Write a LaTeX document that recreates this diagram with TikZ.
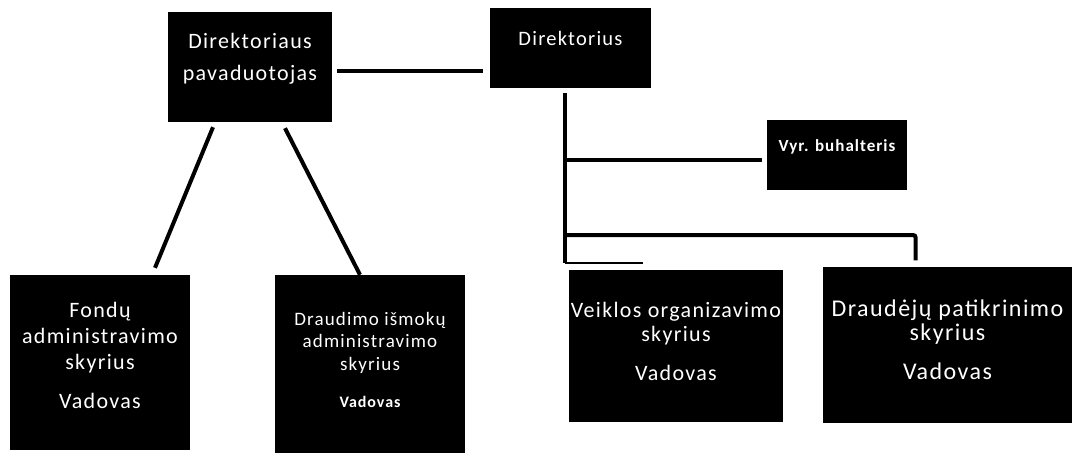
\documentclass[tikz,border=0pt]{standalone}
\usepackage{fontspec}
\setmainfont{Carlito}[LetterSpace=6]
\usetikzlibrary{calc}
\begin{document}
\begin{tikzpicture}[x=1pt,y=-1pt,
  box/.style={fill=black,inner sep=0pt},
  txt/.style={text=white,align=center,inner sep=0pt},
  conn/.style={line width=4pt},
  thinconn/.style={line width=1.5pt}]
\useasboundingbox (0,0) rectangle (1072,454);
\fill[white] (0,0) rectangle (1072,454);

\node[box,minimum width=164pt,minimum height=110pt,
  label={[txt,yshift=8pt,font=\fontsize{22}{32}\selectfont]center:{Direktoriaus\\pavaduotojas}}] (dep) at (250,67) {};
\node[box,minimum width=161pt,minimum height=80pt,
  label={[txt,yshift=10pt,font=\fontsize{20.5}{24}\selectfont]center:{Direktorius}}] (dir) at (570.5,48) {};
\node[box,minimum width=140pt,minimum height=70pt,
  label={[txt,yshift=8pt,font=\fontsize{17}{20}\selectfont\bfseries]center:{Vyr. buhalteris}}] (vyr) at (837,155) {};
\node[box,minimum width=180pt,minimum height=175pt,
  label={[txt,yshift=7pt,font=\fontsize{22}{26}\selectfont]center:{Fondų\\administravimo\\skyrius\\[13pt]Vadovas}}] (fond) at (100,362.5) {};
\node[box,minimum width=190pt,minimum height=178pt,
  label={[txt,yshift=4pt,font=\fontsize{19}{22.5}\selectfont]center:{Draudimo išmokų\\administravimo\\skyrius\\[15pt]{\fontsize{16}{18}\selectfont\bfseries Vadovas}}}] (draud) at (370,364) {};
\node[box,minimum width=214pt,minimum height=152pt,
  label={[txt,yshift=5pt,font=\fontsize{22}{24}\selectfont]center:{Veiklos organizavimo\\skyrius\\[15pt]Vadovas}}] (veik) at (676,346) {};
\node[box,minimum width=249pt,minimum height=156pt,
  label={[txt,yshift=6pt,font=\fontsize{24}{24}\selectfont]center:{Draudėjų patikrinimo\\skyrius\\[15pt]Vadovas}}] (drp) at (947.5,345.5) {};

% connectors
\draw[conn] ($(dep.east)+(5,4)$) -- ($(dep.east -| dir.west)+(-7,4)$);
\draw[conn] ($(dep.south)+(-37,5)$) -- ($(fond.north)+(55,-7)$);
\draw[conn] ($(dep.south)+(35,6)$) -- ($(draud.north)+(-10,0)$);

\coordinate (st) at ($(dir.south)+(-6,5)$);
\coordinate (sb) at ($(st |- veik.north)+(0,-7)$);
\coordinate (b2) at ($(st)+(0,142)$);
\draw[conn] (st) -- (sb);
\draw[conn] ($(st |- vyr.west)+(0,5)$) -- ($(vyr.west)+(-5,5)$);
\draw[conn,rounded corners=2pt] (b2) -| ($(drp.north)+(-32,-7)$);
\draw[thinconn] (sb) -- ($(sb)+(78,0)$);
\end{tikzpicture}
\end{document}
